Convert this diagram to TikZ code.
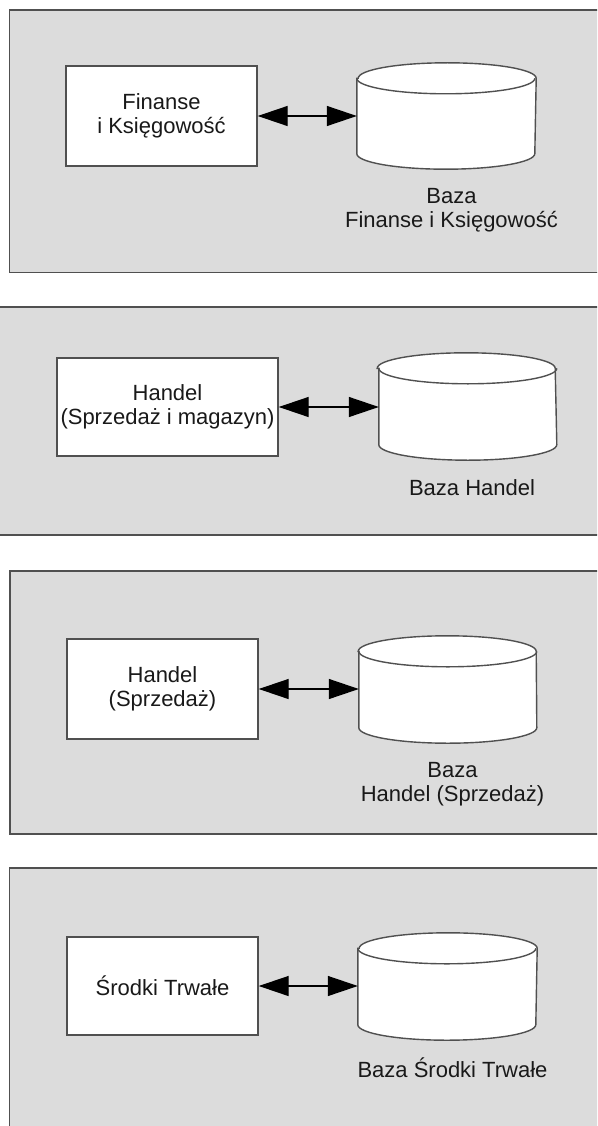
\documentclass[tikz,border=0pt]{standalone}
\usepackage{fontspec}
\setmainfont{Liberation Sans}
\usepackage{tikz}
\usepackage{xcolor}
\usetikzlibrary{positioning,arrows.meta}
\definecolor{panelgray}{HTML}{DCDCDC}
\definecolor{edgegray}{HTML}{505050}
\tikzset{
  panel/.style={ % grey background of one module
    fill=panelgray, draw=edgegray, line width=1.5pt
  },
  modul/.style={ % white box of a program module
    draw=edgegray, fill=white, line width=1.4pt, rectangle,
    minimum width=191pt, minimum height=100pt, align=center,
    inner sep=2pt, text=black!90
  },
  baza/.style={ % place holder of a database cylinder
    rectangle, minimum width=179pt, minimum height=106pt, inner sep=0pt
  },
  cylline/.style={draw=edgegray, fill=white, line width=1.4pt},
  bazalabel/.style={align=center, inner sep=0pt, text=black!90},
  biarrow/.style={
    {Triangle[length=30pt,width=20pt]}-{Triangle[length=30pt,width=20pt]},
    line width=1.3pt, black
  }
}
% cylinder round a baza node
\newcommand\drawbaza[1]{%
  \draw[cylline] ([yshift=-15.5pt]#1.north west) -- ([yshift=15.5pt]#1.south west)
    arc[start angle=180, end angle=360, x radius=89pt, y radius=15.5pt]
    -- ([yshift=-15.5pt]#1.north east)
    arc[start angle=0, end angle=180, x radius=89pt, y radius=15.5pt] -- cycle;
  \draw[cylline, fill=none] ([yshift=-15.5pt]#1.north west)
    arc[start angle=180, end angle=360, x radius=89pt, y radius=15.5pt];
}

\begin{document}
\begin{tikzpicture}[x=1pt, y=1pt, font=\fontsize{22}{24}\selectfont]
  \path[use as bounding box, clip] (0,0) rectangle (597,-1126);

  % panels
  \draw[panel] (9.5,-10) rectangle (620,-272.5);
  \draw[panel] (-10,-307) rectangle (620,-535);
  \draw[panel] (10,-571) rectangle (620,-834);
  \draw[panel] (9.5,-868) rectangle (620,-1140);

  % Finanse i Ksiegowosc
  \node[modul] (finanse) at (161.5,-116) {Finanse\\i Księgowość};
  \node[baza] (bazaFin) at (446.5,-116) {};
  \drawbaza{bazaFin}
  \node[bazalabel, below=19pt of bazaFin, xshift=5pt] (finLabel) {Baza\\Finanse i Księgowość};
  \draw[biarrow] (finanse.east) -- (finanse.east -| bazaFin.west);

  % Handel
  \node[modul, minimum width=221pt, minimum height=98pt] (handel) at (167.5,-407) {Handel\\(Sprzedaż i magazyn)};
  \node[baza, minimum width=176pt, minimum height=107pt] (bazaHan) at (467,-406.5) {};
  \drawbaza{bazaHan}
  \node[bazalabel, below=19pt of bazaHan, xshift=5pt] (hanLabel) {Baza Handel};
  \draw[biarrow] (handel.east) -- (handel.east -| bazaHan.west);

  % Handel (Sprzedaz)
  \node[modul] (sprzedaz) at (162.5,-689) {Handel\\(Sprzedaż)};
  \node[baza, minimum width=177pt, minimum height=107pt] (bazaSprz) at (447.5,-689.5) {};
  \drawbaza{bazaSprz}
  \node[bazalabel, below=19pt of bazaSprz, xshift=5pt] (sprzLabel) {Baza\\Handel (Sprzedaż)};
  \draw[biarrow] (sprzedaz.east) -- (sprzedaz.east -| bazaSprz.west);

  % Srodki Trwale
  \node[modul, minimum height=98pt] (srodki) at (162.5,-986) {Środki Trwałe};
  \node[baza, minimum height=107pt] (bazaSr) at (447.5,-986.5) {};
  \drawbaza{bazaSr}
  \node[bazalabel, below=17pt of bazaSr, xshift=5pt] (srLabel) {Baza Środki Trwałe};
  \draw[biarrow] (srodki.east) -- (srodki.east -| bazaSr.west);
\end{tikzpicture}
\end{document}
